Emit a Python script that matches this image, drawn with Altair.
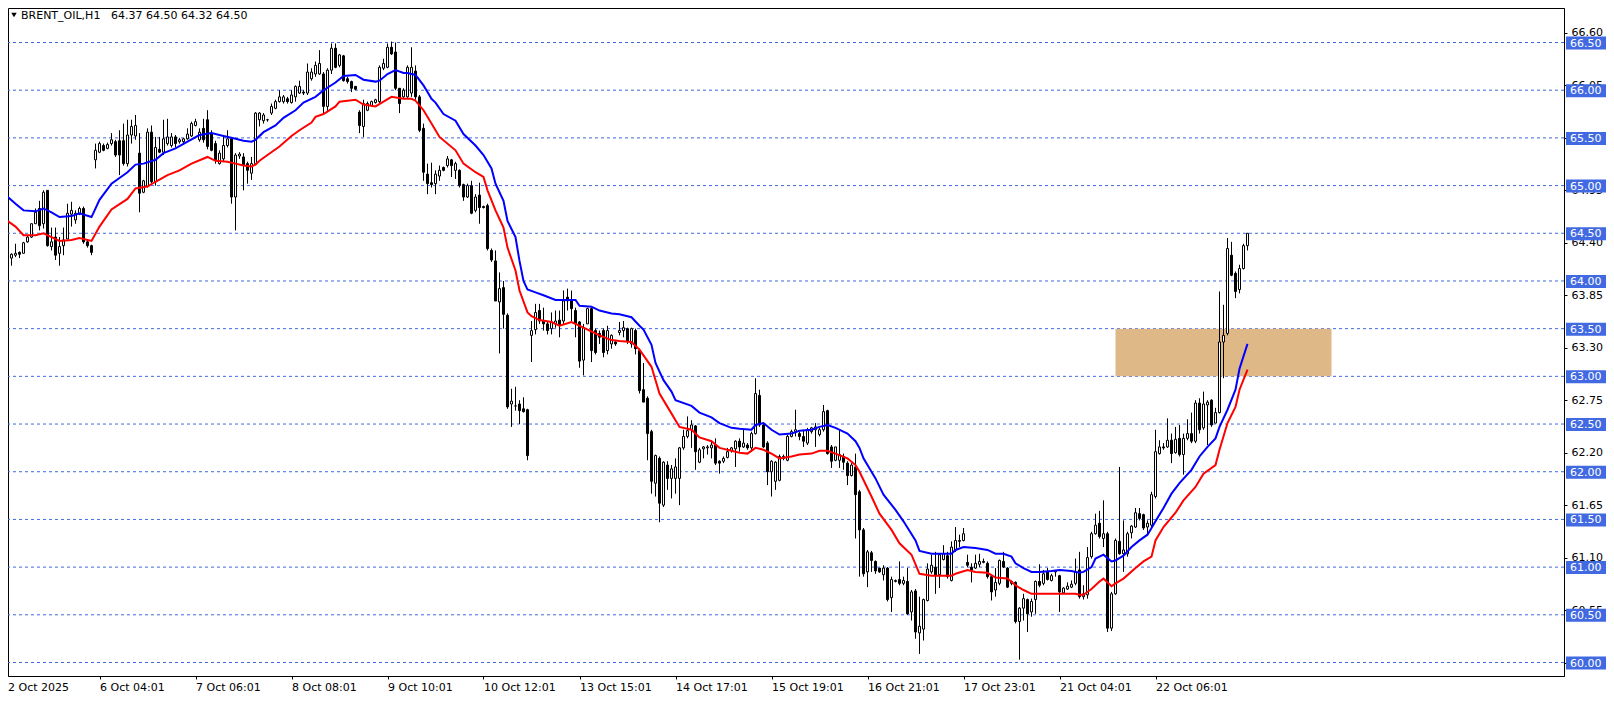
import altair as alt
import pandas as pd

# ---------------- data ----------------
opens = [
 64.25,64.26,64.24,64.27,64.30,64.29,64.41,64.46,64.60,64.76,
 64.60,64.95,64.36,64.46,64.29,64.37,64.44,64.70,64.64,64.70,
 64.76,64.41,64.37,65.27,65.35,65.42,65.39,65.44,65.46,65.47,
 65.47,65.23,65.53,65.52,65.34,64.93,64.99,65.56,65.04,65.38,
 65.35,65.44,65.42,65.51,65.46,65.46,65.49,65.52,65.63,65.48,
 65.60,65.69,65.55,65.44,65.23,65.28,65.42,65.49,64.88,65.31,
 65.30,65.23,65.13,65.23,65.69,65.68,65.69,65.76,65.81,65.88,
 65.88,65.91,65.87,65.93,65.97,65.98,65.97,66.12,66.17,66.17,
 66.17,65.83,66.21,66.44,66.26,66.36,66.12,66.09,66.04,65.77,
 65.62,65.79,65.84,65.87,65.88,66.23,66.24,66.45,66.40,66.02,
 65.93,65.93,65.97,66.20,65.93,65.60,65.12,65.03,65.02,65.10,
 65.19,65.21,65.27,65.16,65.16,65.01,64.88,65.00,64.74,64.90,
 64.78,64.79,64.32,64.21,63.78,63.93,63.64,62.71,62.69,62.71,
 62.66,62.65,63.43,63.49,63.69,63.58,63.55,63.50,63.55,63.59,
 63.58,63.83,63.79,63.69,63.57,63.17,63.55,63.71,63.48,63.45,
 63.48,63.27,63.34,63.36,63.46,63.48,63.50,63.34,63.48,63.27,
 62.86,62.77,62.42,61.88,62.14,61.65,62.07,61.93,61.93,61.93,
 62.25,62.37,62.44,62.48,62.10,62.24,62.25,62.25,62.28,62.11,
 62.11,62.15,62.22,62.24,62.32,62.26,62.28,62.25,62.40,62.80,
 62.49,62.30,62.00,61.90,61.91,62.14,62.12,62.37,62.42,62.40,
 62.37,62.30,62.42,62.44,62.39,62.44,62.64,62.26,62.12,62.12,
 62.16,62.09,61.96,62.05,61.79,61.39,60.95,61.15,61.06,60.99,
 60.92,60.99,60.68,60.85,60.87,60.83,60.85,60.53,60.75,60.31,
 60.35,60.65,60.95,61.00,60.92,61.08,61.12,60.86,61.18,61.27,
 61.28,61.05,61.00,60.99,61.03,61.06,61.04,60.90,60.76,60.83,
 61.06,60.99,60.83,60.84,60.43,60.57,60.66,60.53,60.66,60.85,
 60.83,60.95,60.86,60.95,60.91,60.73,60.77,60.79,60.83,60.97,
 60.69,60.71,61.11,61.35,61.46,61.30,61.35,60.36,60.72,61.27,
 61.14,61.14,61.36,61.42,61.56,61.55,61.42,61.44,61.74,62.19,
 62.26,62.26,62.33,62.20,62.35,62.18,62.35,62.40,62.32,62.72,
 62.46,62.70,62.75,62.51,62.62,63.36,63.45,64.27,64.08,63.91,
 64.13,64.37]

highs = [
 64.35,64.28,64.29,64.39,64.31,64.41,64.47,64.60,64.76,64.84,
 64.95,64.95,64.56,64.56,64.46,64.56,64.81,64.83,64.74,64.78,
 64.78,64.43,64.38,65.44,65.46,65.44,65.45,65.55,65.48,65.58,
 65.65,65.69,65.69,65.74,65.55,65.06,65.60,65.63,65.51,65.51,
 65.69,65.70,65.55,65.53,65.50,65.50,65.60,65.67,65.70,65.60,
 65.70,65.79,65.58,65.47,65.37,65.51,65.58,65.51,65.34,65.35,
 65.34,65.25,65.30,65.77,65.77,65.76,65.70,65.86,65.90,66.00,
 65.95,65.93,66.00,66.05,66.10,66.00,66.28,66.23,66.30,66.42,
 66.19,66.23,66.49,66.49,66.38,66.37,66.14,66.10,66.04,65.79,
 65.90,65.88,65.89,65.91,66.26,66.33,66.49,66.51,66.50,66.02,
 66.02,66.26,66.45,66.26,65.95,65.65,65.23,65.24,65.16,65.21,
 65.20,65.31,65.28,65.25,65.17,65.02,65.02,65.05,64.91,65.03,
 64.79,64.81,64.34,64.32,64.09,64.00,63.66,62.87,62.89,62.75,
 62.78,62.66,63.58,63.76,63.76,63.72,63.58,63.67,63.69,63.69,
 63.90,63.92,63.90,63.72,63.58,63.55,63.72,63.72,63.50,63.48,
 63.50,63.53,63.44,63.37,63.57,63.58,63.51,63.51,63.50,63.29,
 63.14,62.79,62.44,62.18,62.16,62.11,62.11,62.07,62.14,62.26,
 62.44,62.58,62.54,62.49,62.25,62.27,62.28,62.33,62.35,62.12,
 62.16,62.25,62.26,62.33,62.35,62.44,62.30,62.42,62.98,62.86,
 62.51,62.32,62.12,62.11,62.18,62.18,62.39,62.44,62.65,62.42,
 62.44,62.46,62.47,62.51,62.46,62.70,62.65,62.28,62.26,62.44,
 62.19,62.11,62.09,62.19,61.81,61.41,61.18,61.17,61.07,60.99,
 61.02,61.00,60.90,60.87,61.06,60.90,60.99,60.76,60.77,60.69,
 60.67,61.04,61.13,61.16,61.14,61.23,61.16,61.27,61.42,61.34,
 61.41,61.13,61.04,61.13,61.14,61.09,61.06,60.92,60.99,61.08,
 61.16,61.00,60.86,60.85,60.58,60.72,60.67,60.67,60.86,61.03,
 60.97,60.99,60.93,60.97,60.92,60.79,60.84,60.86,61.09,61.16,
 60.81,61.21,61.37,61.56,61.59,61.70,61.37,60.74,61.30,62.05,
 61.49,61.37,61.44,61.62,61.62,61.56,61.49,61.79,62.44,62.33,
 62.30,62.56,62.40,62.47,62.49,62.40,62.55,62.62,62.75,62.77,
 62.84,62.75,62.76,62.67,63.89,63.75,64.45,64.41,64.10,64.17,
 64.39,64.50]

lows = [
 64.16,64.24,64.16,64.25,64.24,64.29,64.40,64.45,64.60,64.53,
 64.55,64.36,64.32,64.22,64.16,64.27,64.44,64.57,64.60,64.69,
 64.39,64.35,64.27,65.18,65.34,65.36,65.38,65.42,65.30,65.11,
 65.21,65.20,65.44,65.48,64.72,64.92,64.98,65.02,65.00,65.34,
 65.32,65.42,65.40,65.40,65.44,65.43,65.48,65.51,65.62,65.46,
 65.45,65.38,65.36,65.23,65.22,65.25,65.40,64.81,64.53,65.28,
 64.95,65.02,65.06,65.23,65.62,65.65,65.67,65.74,65.80,65.87,
 65.86,65.86,65.86,65.88,65.96,65.95,65.95,66.10,66.14,66.16,
 65.76,65.77,66.17,66.23,66.24,66.09,66.07,65.98,66.00,65.55,
 65.51,65.78,65.83,65.86,65.86,66.21,66.23,66.37,66.00,65.76,
 65.92,65.92,65.93,65.90,65.56,65.05,64.91,64.98,64.91,65.05,
 65.15,65.19,65.09,65.07,64.98,64.84,64.87,64.70,64.72,64.60,
 64.76,64.32,64.20,63.79,63.24,63.50,62.66,62.47,62.64,62.50,
 62.62,62.12,63.15,63.44,63.55,63.48,63.44,63.44,63.51,63.41,
 63.55,63.69,63.58,63.41,63.09,63.01,63.55,63.15,63.23,63.34,
 63.20,63.23,63.29,63.32,63.43,63.41,63.34,63.30,63.23,62.82,
 62.73,62.12,61.77,61.74,61.47,61.63,61.81,61.72,61.77,61.65,
 62.23,62.35,62.25,62.02,62.09,62.14,62.18,62.14,62.07,61.98,
 62.09,62.14,62.20,62.05,62.21,62.25,62.23,62.21,62.39,62.47,
 62.25,61.86,61.74,61.81,61.90,62.12,62.11,62.36,62.37,62.33,
 62.26,62.28,62.40,62.26,62.37,62.42,62.18,62.04,62.11,62.04,
 62.02,61.86,61.95,61.30,60.90,60.90,60.79,60.95,60.93,60.94,
 60.86,60.64,60.53,60.84,60.81,60.81,60.50,60.44,60.25,60.09,
 60.23,60.64,60.93,60.72,60.78,61.07,60.88,60.85,61.16,61.21,
 61.27,61.00,60.84,60.98,61.00,61.04,60.88,60.65,60.69,60.81,
 60.99,60.78,60.81,60.41,60.03,60.44,60.32,60.48,60.51,60.79,
 60.81,60.86,60.85,60.90,60.53,60.72,60.76,60.78,60.81,60.67,
 60.66,60.67,61.09,61.34,61.30,61.21,60.32,60.33,60.71,61.13,
 60.95,61.11,61.30,61.41,61.49,61.39,61.34,61.42,61.72,62.18,
 62.23,62.25,62.09,62.19,62.16,61.97,62.33,62.30,62.30,62.40,
 62.44,62.28,62.47,62.51,62.61,62.98,63.43,64.05,63.82,63.87,
 64.12,64.32]

closes = [
 64.26,64.26,64.28,64.29,64.28,64.40,64.46,64.60,64.72,64.58,
 64.93,64.37,64.41,64.27,64.36,64.43,64.71,64.74,64.71,64.76,
 64.41,64.37,64.30,65.37,65.44,65.37,65.43,65.48,65.32,65.32,
 65.23,65.53,65.62,65.63,64.92,65.05,65.56,65.04,65.40,65.35,
 65.49,65.51,65.51,65.44,65.48,65.49,65.54,65.65,65.67,65.56,
 65.48,65.41,65.37,65.27,65.34,65.42,65.49,64.88,65.32,65.33,
 65.22,65.16,65.23,65.76,65.76,65.74,65.69,65.83,65.88,65.93,
 65.93,65.88,65.95,66.04,66.04,65.97,66.19,66.19,66.26,66.28,
 65.83,66.21,66.44,66.24,66.37,66.10,66.09,66.02,66.01,65.63,
 65.86,65.86,65.88,65.90,66.24,66.28,66.45,66.38,66.02,65.86,
 66.00,66.24,66.24,65.93,65.58,65.14,65.02,65.01,65.12,65.16,
 65.16,65.28,65.21,65.23,65.00,64.88,65.00,64.71,64.88,64.77,
 64.77,64.34,64.22,63.79,63.92,63.65,62.68,62.74,62.69,62.64,
 62.63,62.17,63.48,63.67,63.58,63.55,63.48,63.57,63.58,63.53,
 63.79,63.79,63.71,63.55,63.16,63.51,63.71,63.27,63.25,63.41,
 63.25,63.48,63.43,63.34,63.48,63.51,63.37,63.50,63.29,62.85,
 62.73,62.40,61.90,62.17,61.67,62.10,61.93,62.03,62.05,62.25,
 62.37,62.43,62.49,62.21,62.23,62.26,62.26,62.28,62.09,62.09,
 62.14,62.21,62.25,62.32,62.26,62.30,62.25,62.40,62.82,62.49,
 62.26,62.00,62.11,62.10,62.16,62.16,62.37,62.42,62.44,62.37,
 62.32,62.44,62.46,62.47,62.44,62.63,62.19,62.11,62.26,62.18,
 62.10,61.96,62.07,61.76,61.39,60.93,61.16,61.07,60.96,60.95,
 60.99,60.66,60.87,60.86,60.83,60.86,60.51,60.74,60.32,60.38,
 60.66,60.98,61.02,60.91,61.13,61.14,60.90,61.21,61.28,61.28,
 61.35,61.02,60.97,61.04,61.06,61.05,60.90,60.74,60.84,61.07,
 61.00,60.79,60.85,60.43,60.57,60.67,60.51,60.64,60.85,60.81,
 60.93,60.87,60.91,60.96,60.74,60.78,60.80,60.82,60.95,60.69,
 60.72,61.10,61.35,61.44,61.32,61.35,60.36,60.72,61.28,61.14,
 61.18,61.35,61.43,61.57,61.51,61.41,61.46,61.76,62.21,62.26,
 62.25,62.33,62.19,62.34,62.18,62.35,62.40,62.32,62.72,62.44,
 62.71,62.73,62.49,62.62,63.36,63.43,64.34,64.06,63.89,64.13,
 64.37,64.50]

# moving average of highs (blue) and of lows (red)
ma_high_bars = [0,3,5,8,10,12,14,17,19,22,24,27,31,33,35,38,40,43,46,49,52,55,58,60,62,63,65,68,70,73,75,78,80,83,85,88,90,93,94,96,98,100,101,103,105,106,107,108,110,113,115,118,120,122,123,125,126,128,129,130,131,133,135,138,140,143,144,147,149,152,154,157,159,160,162,163,165,167,168,172,174,177,179,182,184,187,188,190,192,194,197,199,202,204,206,208,211,213,214,215,218,220,223,225,228,229,232,234,237,238,240,243,246,248,250,252,253,255,257,259,262,264,267,269,270,272,273,275,277,278,280,282,284,286,288,290,292,294,297,299,301,303,304,306,308,309,311]
ma_high_vals = [64.92,64.81,64.74,64.73,64.76,64.72,64.67,64.68,64.71,64.67,64.85,65.02,65.14,65.22,65.23,65.27,65.34,65.39,65.46,65.53,65.55,65.52,65.49,65.47,65.46,65.48,65.56,65.63,65.71,65.79,65.87,65.93,66.00,66.08,66.15,66.16,66.11,66.09,66.10,66.17,66.21,66.18,66.18,66.16,66.05,65.98,65.91,65.87,65.75,65.68,65.54,65.42,65.32,65.18,65.02,64.84,64.63,64.46,64.21,64.00,63.91,63.88,63.85,63.80,63.80,63.80,63.74,63.73,63.69,63.66,63.65,63.62,63.53,63.49,63.33,63.14,62.96,62.84,62.75,62.69,62.62,62.57,62.51,62.46,62.45,62.44,62.49,62.51,62.44,62.39,62.40,62.43,62.44,62.47,62.49,62.46,62.40,62.32,62.25,62.14,61.93,61.76,61.60,61.48,61.28,61.17,61.14,61.14,61.14,61.18,61.21,61.20,61.18,61.14,61.14,61.11,61.04,60.99,60.95,60.95,60.96,60.97,60.96,60.94,60.95,61.00,61.09,61.13,61.06,61.07,61.12,61.21,61.28,61.34,61.48,61.62,61.77,61.88,62.02,62.16,62.26,62.35,62.47,62.65,62.86,63.08,63.34]

ma_low_bars = [0,3,5,8,10,12,14,17,19,22,24,27,31,33,36,38,41,44,47,51,53,56,58,60,62,63,64,66,69,72,74,77,78,80,83,84,88,90,93,95,97,100,102,103,105,107,109,113,115,118,120,121,123,125,126,128,129,131,132,134,137,139,142,143,145,147,149,152,154,157,159,162,164,166,168,169,172,174,177,179,182,184,186,188,190,192,194,197,199,202,204,206,208,211,213,214,217,219,222,224,227,229,232,234,237,238,241,243,246,248,251,253,255,257,259,262,265,268,269,270,272,274,275,277,278,280,283,285,287,288,290,293,295,298,300,303,304,306,308,309,311]
ma_low_vals = [64.66,64.57,64.48,64.48,64.50,64.46,64.42,64.43,64.45,64.42,64.57,64.75,64.86,64.97,64.99,65.04,65.11,65.16,65.23,65.30,65.26,65.25,65.23,65.21,65.20,65.22,65.26,65.32,65.41,65.52,65.58,65.66,65.72,65.75,65.83,65.88,65.90,65.85,65.83,65.88,65.93,65.91,65.91,65.89,65.79,65.65,65.51,65.37,65.23,65.14,65.09,64.95,64.74,64.56,64.35,64.11,63.90,63.67,63.63,63.59,63.57,63.53,63.57,63.55,63.51,63.47,63.43,63.38,63.37,63.36,63.28,63.10,62.82,62.68,62.54,62.47,62.44,62.36,62.32,62.25,62.22,62.20,62.19,62.25,62.23,62.19,62.14,62.16,62.18,62.19,62.22,62.22,62.19,62.14,62.07,62.00,61.74,61.56,61.39,61.25,61.13,60.93,60.91,60.91,60.91,60.93,60.97,60.95,60.94,60.89,60.88,60.81,60.76,60.72,60.72,60.72,60.72,60.72,60.71,60.71,60.77,60.85,60.88,60.80,60.83,60.88,60.99,61.06,61.11,61.28,61.42,61.57,61.70,61.84,61.98,62.07,62.23,62.51,62.68,62.86,63.07]

level_prices = [60.0, 60.5, 61.0, 61.5, 62.0, 62.5, 63.0, 63.5, 64.0, 64.5, 65.0, 65.5, 66.0, 66.5]
axis_prices = [60.00, 60.55, 61.10, 61.65, 62.20, 62.75, 63.30, 63.85, 64.40, 64.95, 65.50, 66.05, 66.60]
tick_bars = [0, 24, 48, 72, 96, 120, 144, 168, 192, 216, 240, 264, 288]
tick_texts = ["2 Oct 2025", "6 Oct 04:01", "7 Oct 06:01", "8 Oct 08:01", "9 Oct 10:01",
              "10 Oct 12:01", "13 Oct 15:01", "14 Oct 17:01", "15 Oct 19:01",
              "16 Oct 21:01", "17 Oct 23:01", "21 Oct 04:01", "22 Oct 06:01"]
zone_bars = [278, 332]
zone_prices = [63.0, 63.5]
title_name = "BRENT_OIL,H1"
title_ohlc = "64.37 64.50 64.32 64.50"

# ---------------- chart ----------------
W, H = 1556, 668
x_domain = [1.125, 390.125]
y_domain = [59.8585, 66.8617]
FONT = "DejaVu Sans"
LEVEL_BLUE = "#4169E1"

candles = pd.DataFrame({"bar": list(range(len(opens))), "open": opens, "high": highs,
                        "low": lows, "close": closes})
ma_hi = pd.DataFrame({"bar": ma_high_bars, "val": ma_high_vals})
ma_lo = pd.DataFrame({"bar": ma_low_bars, "val": ma_low_vals})
levels = pd.DataFrame({"price": level_prices, "label": [f"{p:.2f}" for p in level_prices]})
zone = pd.DataFrame({"x1": [zone_bars[0]], "x2": [zone_bars[1]],
                     "y1": [zone_prices[0]], "y2": [zone_prices[1]]})

label_map = "{" + ",".join(f"'{b}':'{t}'" for b, t in zip(tick_bars, tick_texts)) + "}"
x_axis = alt.Axis(orient="bottom", values=tick_bars[1:], labelExpr=f"{label_map}[datum.value]",
                  title=None, grid=False, tickSize=3, labelPadding=2, labelAlign="left",
                  labelBaseline="top", labelFlush=False, labelOverlap=False,
                  labelFont=FONT, labelFontSize=11, labelColor="black",
                  domainColor="black", tickColor="black")
y_axis = alt.Axis(orient="right", values=axis_prices, format=".2f", title=None, grid=False,
                  tickSize=3, labelPadding=4, labelFlush=False, labelOverlap=False,
                  labelFont=FONT, labelFontSize=11, labelColor="black",
                  domainColor="black", tickColor="black")
xs = alt.Scale(domain=x_domain, nice=False, zero=False, padding=0)
ys = alt.Scale(domain=y_domain, nice=False, zero=False, padding=0)

def X(f):
    return alt.X(f, scale=xs, axis=x_axis)

def Y(f):
    return alt.Y(f, scale=ys, axis=y_axis)

level_lines = alt.Chart(levels).mark_rule(color=LEVEL_BLUE, strokeWidth=1, strokeDash=[3, 3]).encode(
    y=Y("price:Q"))

zone_rect = alt.Chart(zone).mark_rect(color="#DEB887", opacity=1, clip=True).encode(
    x=X("x1:Q"), x2="x2:Q", y=Y("y1:Q"), y2="y2:Q")

wicks = alt.Chart(candles).mark_rule(color="black", strokeWidth=1, clip=True).encode(
    x=X("bar:Q"), y=Y("low:Q"), y2="high:Q")

bodies = alt.Chart(candles).transform_calculate(
    dir="datum.close >= datum.open ? 'up' : 'down'"
).mark_bar(size=2, stroke="black", strokeWidth=1, clip=True).encode(
    x=X("bar:Q"), y=Y("open:Q"), y2="close:Q",
    fill=alt.Fill("dir:N", scale=alt.Scale(domain=["up", "down"], range=["white", "black"]),
                  legend=None))

blue_line = alt.Chart(ma_hi).mark_line(color="#0000FF", strokeWidth=2, clip=True).encode(
    x=X("bar:Q"), y=Y("val:Q"))
red_line = alt.Chart(ma_lo).mark_line(color="#FF0000", strokeWidth=2, clip=True).encode(
    x=X("bar:Q"), y=Y("val:Q"))

title_df = pd.DataFrame({"t": [title_name], "v": [title_ohlc]})
tri = alt.Chart(title_df).mark_point(shape="triangle-down", filled=True, color="black",
                                      size=30, opacity=1).encode(
    x=alt.value(6), y=alt.value(7))
title_txt = alt.Chart(title_df).mark_text(align="left", baseline="alphabetic", font=FONT,
                                          fontSize=11, color="black").encode(
    x=alt.value(13), y=alt.value(11), text="t:N")
ohlc_txt = alt.Chart(title_df).mark_text(align="left", baseline="alphabetic", font=FONT,
                                         fontSize=11, color="black").encode(
    x=alt.value(103), y=alt.value(11), text="v:N")

boxes = alt.Chart(levels).mark_rect(color=LEVEL_BLUE, opacity=1, yOffset=-6, y2Offset=7).encode(
    x=alt.value(W + 2), x2=alt.value(W + 42), y=Y("price:Q"), y2="price:Q")
box_txt = alt.Chart(levels).mark_text(align="left", baseline="middle", font=FONT, fontSize=11,
                                      color="white", dy=1).encode(
    x=alt.value(W + 6), y=Y("price:Q"), text="label:N")

first_date = alt.Chart(pd.DataFrame({"t": [tick_texts[0]]})).mark_text(
    align="left", baseline="top", font=FONT, fontSize=11, color="black").encode(
    x=alt.value(0), y=alt.value(H + 5.5), text="t:N")

chart = alt.layer(
    level_lines, zone_rect, wicks, bodies, blue_line, red_line,
    tri, title_txt, ohlc_txt, boxes, box_txt, first_date
).properties(
    width=W, height=H,
    padding={"left": 0, "top": 0, "right": 42, "bottom": 18},
    autosize=alt.AutoSizeParams(type="none"),
    background="white",
).configure_view(stroke="black", strokeWidth=1)

chart.save("out.html", embed_options={"renderer": "svg", "actions": False})
